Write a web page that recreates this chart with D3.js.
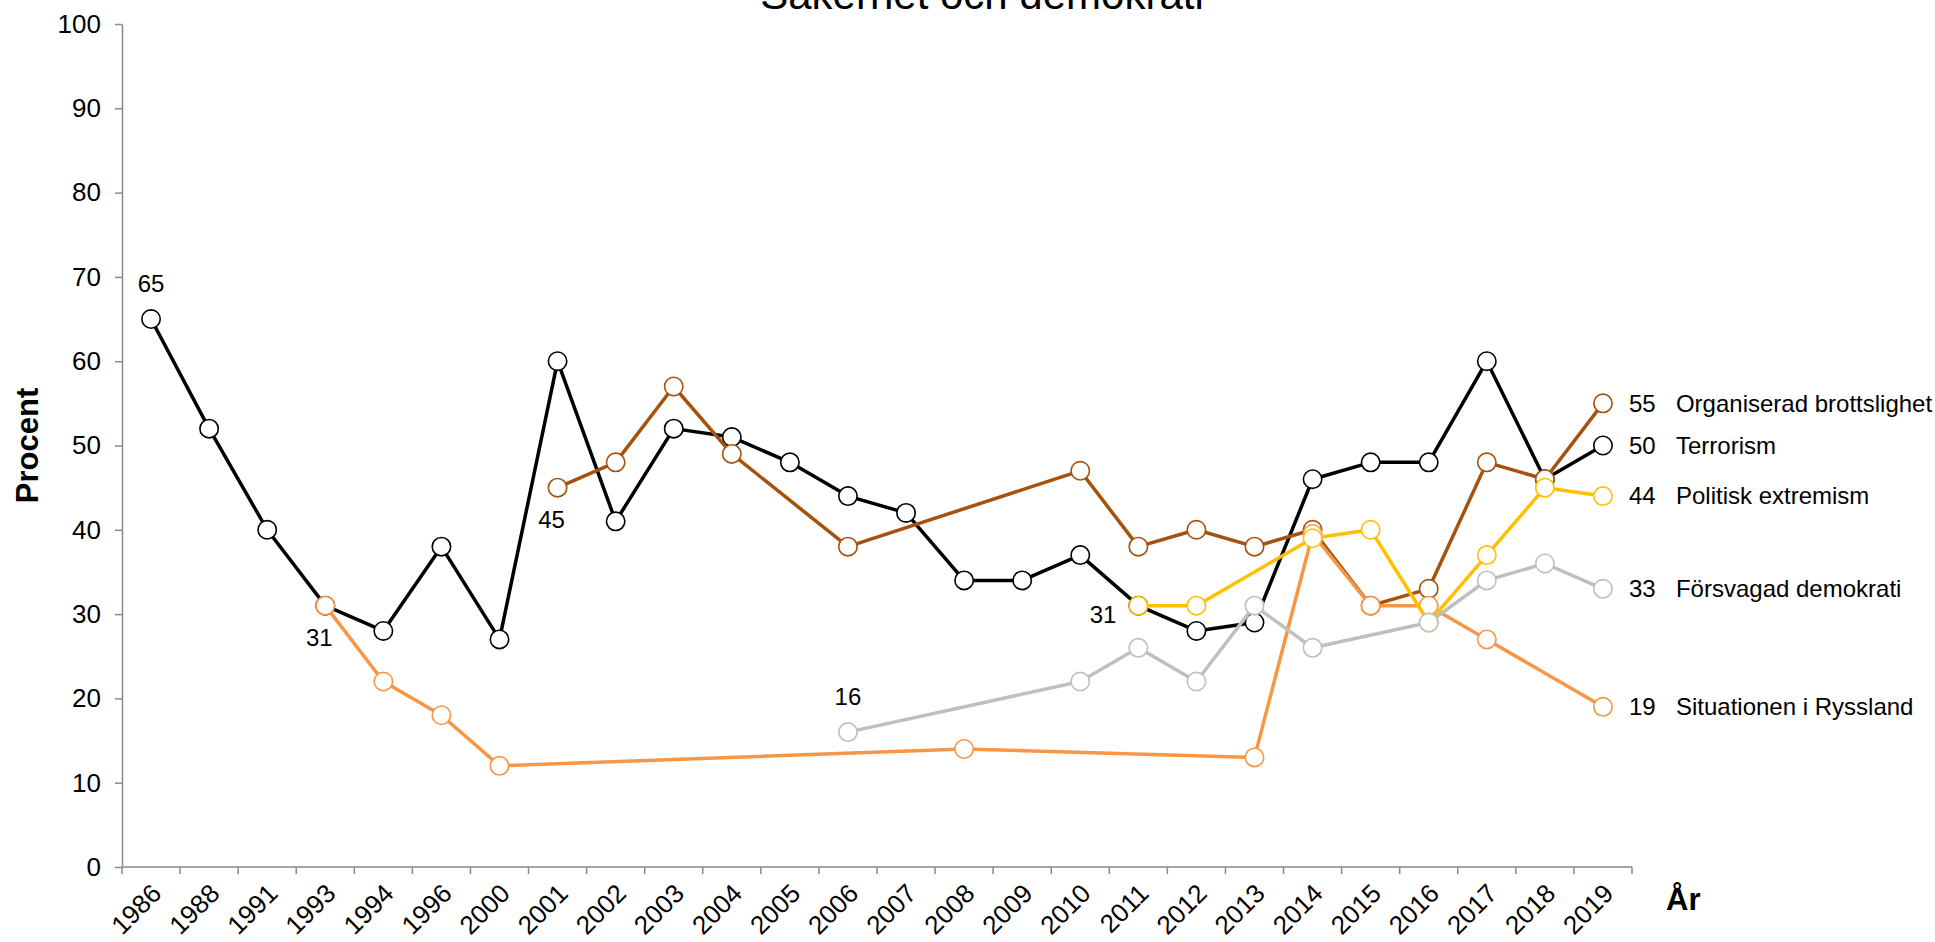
<!DOCTYPE html>
<html>
<head>
<meta charset="utf-8">
<script src="https://cdn.jsdelivr.net/npm/d3@7"></script>
<style>
  body { margin: 0; background: #fff; }
  svg { display: block; font-family: "Liberation Sans", Arial, sans-serif; }
</style>
</head>
<body>
<svg id="chart" width="1935" height="942"></svg>
<script>
var years = ['1986', '1988', '1991', '1993', '1994', '1996', '2000', '2001', '2002', '2003',
             '2004', '2005', '2006', '2007', '2008', '2009', '2010', '2011', '2012', '2013',
             '2014', '2015', '2016', '2017', '2018', '2019'];

var terrorism = [65, 52, 40, 31, 28, 38, 27, 60, 41, 52, 51, 48, 44, 42, 34, 34, 37, 31, 28, 29,
                 46, 48, 48, 60, 46, 50];
var organiserad = [null, null, null, null, null, null, null, 45, 48, 57, 49, null, 38, null, null, null,
                   47, 38, 40, 38, 40, 31, 33, 48, 46, 55];
var ryssland = [null, null, null, 31, 22, 18, 12, null, null, null, null, null, null, null, 14, null,
                null, null, null, 13, 39.5, 31, 31, 27, null, 19];
var politisk = [null, null, null, null, null, null, null, null, null, null, null, null, null, null, null, null,
                null, 31, 31, null, 39, 40, 29, 37, 45, 44];
var forsvagad = [null, null, null, null, null, null, null, null, null, null, null, null, 16, null, null, null,
                 22, 26, 22, 31, 26, null, 29, 34, 36, 33];

var yTicks = [0, 10, 20, 30, 40, 50, 60, 70, 80, 90, 100];

// drawing order = Excel series order (later on top)
var series = [
  { name: 'Terrorism', values: terrorism, color: '#000000' },
  { name: 'Organiserad brottslighet', values: organiserad, color: '#A5520F' },
  { name: 'Situationen i Ryssland', values: ryssland, color: '#F79646' },
  { name: 'Politisk extremism', values: politisk, color: '#FFC000' },
  { name: 'Försvagad demokrati', values: forsvagad, color: '#BFBFBF' }
];

// single data labels: [series name, year, placement]
var pointLabels = [
  ['Terrorism', '1986', 'above'],
  ['Terrorism', '1993', 'below'],
  ['Organiserad brottslighet', '2001', 'below'],
  ['Försvagad demokrati', '2006', 'above'],
  ['Politisk extremism', '2011', 'left']
];

var svg = d3.select('#chart');
var margin = { top: 24, right: 303, bottom: 75, left: 122 };
var width = 1935, height = 942;

var x = d3.scaleBand()
  .domain(years)
  .range([margin.left, width - margin.right]);
var y = d3.scaleLinear()
  .domain([0, 100])
  .range([height - margin.bottom, margin.top]);

function cx(yr) { return x(yr) + x.bandwidth() / 2; }

svg.append('rect').attr('width', width).attr('height', height).attr('fill', '#fff');

// title (cut off at the top like the original)
svg.append('text')
  .attr('x', 982)
  .attr('y', 9)
  .attr('text-anchor', 'middle')
  .attr('font-size', 42)
  .text('Säkerhet och demokrati');

// y axis
var yAxis = svg.append('g')
  .attr('transform', 'translate(' + margin.left + ',0)')
  .call(d3.axisLeft(y).tickValues(yTicks).tickSize(7).tickPadding(14).tickSizeOuter(0));
yAxis.select('.domain').attr('stroke', '#898989').attr('stroke-width', 1.5);
yAxis.selectAll('.tick line').attr('stroke', '#898989').attr('stroke-width', 1.5);
yAxis.selectAll('.tick text').attr('font-size', 26).attr('fill', '#000')
  .attr('font-family', '"Liberation Sans", Arial, sans-serif');

// x axis: ticks between categories, labels rotated
var y0 = y(0);
var xg = svg.append('g');
xg.append('line')
  .attr('x1', x.range()[0]).attr('x2', x.range()[1])
  .attr('y1', y0).attr('y2', y0)
  .attr('stroke', '#898989').attr('stroke-width', 1.5);
var bounds = years.map(function(d) { return x(d); }).concat([x.range()[1]]);
xg.selectAll('.xtick')
  .data(bounds)
  .enter().append('line')
  .attr('class', 'xtick')
  .attr('x1', function(d) { return d; }).attr('x2', function(d) { return d; })
  .attr('y1', y0).attr('y2', y0 + 7)
  .attr('stroke', '#898989').attr('stroke-width', 1.5);
xg.selectAll('.xlabel')
  .data(years)
  .enter().append('text')
  .attr('class', 'xlabel')
  .attr('text-anchor', 'end')
  .attr('font-size', 26)
  .attr('transform', function(d) {
    return 'translate(' + (cx(d) + 12) + ',' + (y0 + 28) + ') rotate(-45)';
  })
  .text(function(d) { return d; });

// axis titles
svg.append('text')
  .attr('transform', 'translate(38,' + ((y(0) + y(100)) / 2) + ') rotate(-90)')
  .attr('text-anchor', 'middle')
  .attr('font-size', 31)
  .attr('font-weight', 'bold')
  .text('Procent');
svg.append('text')
  .attr('x', 1666)
  .attr('y', 910)
  .attr('font-size', 31)
  .attr('font-weight', 'bold')
  .text('År');

var line = d3.line()
  .x(function(d) { return cx(d.year); })
  .y(function(d) { return y(d.value); });

series.forEach(function(s) {
  var pts = years.map(function(yr, i) { return { year: yr, value: s.values[i] }; })
    .filter(function(d) { return d.value != null; });
  s.points = pts;

  var g = svg.append('g').attr('class', 'series');
  g.append('path')
    .datum(pts)
    .attr('fill', 'none')
    .attr('stroke', s.color)
    .attr('stroke-width', 3.5)
    .attr('stroke-linejoin', 'round')
    .attr('d', line);
  g.selectAll('circle')
    .data(pts)
    .enter().append('circle')
    .attr('cx', function(d) { return cx(d.year); })
    .attr('cy', function(d) { return y(d.value); })
    .attr('r', 9.2)
    .attr('fill', '#fff')
    .attr('stroke', s.color)
    .attr('stroke-width', 1.6);
});

// end labels
series.forEach(function(s) {
  var last = s.points[s.points.length - 1];
  var ly = y(last.value);
  svg.append('text')
    .attr('x', cx(last.year) + 26)
    .attr('y', ly)
    .attr('dy', '0.35em')
    .attr('font-size', 24)
    .text(last.value);
  svg.append('text')
    .attr('x', cx(last.year) + 73)
    .attr('y', ly)
    .attr('dy', '0.35em')
    .attr('font-size', 24)
    .text(s.name);
});

// point data labels
pointLabels.forEach(function(p) {
  var s = series.find(function(d) { return d.name === p[0]; });
  var v = s.values[years.indexOf(p[1])];
  var px = cx(p[1]), py = y(v);
  var t = svg.append('text').attr('font-size', 24).text(v);
  if (p[2] === 'above') {
    t.attr('x', px).attr('y', py - 27).attr('text-anchor', 'middle');
  } else if (p[2] === 'below') {
    t.attr('x', px - 6).attr('y', py + 40).attr('text-anchor', 'middle');
  } else {
    t.attr('x', px - 22).attr('y', py + 17).attr('text-anchor', 'end');
  }
});
</script>
</body>
</html>
